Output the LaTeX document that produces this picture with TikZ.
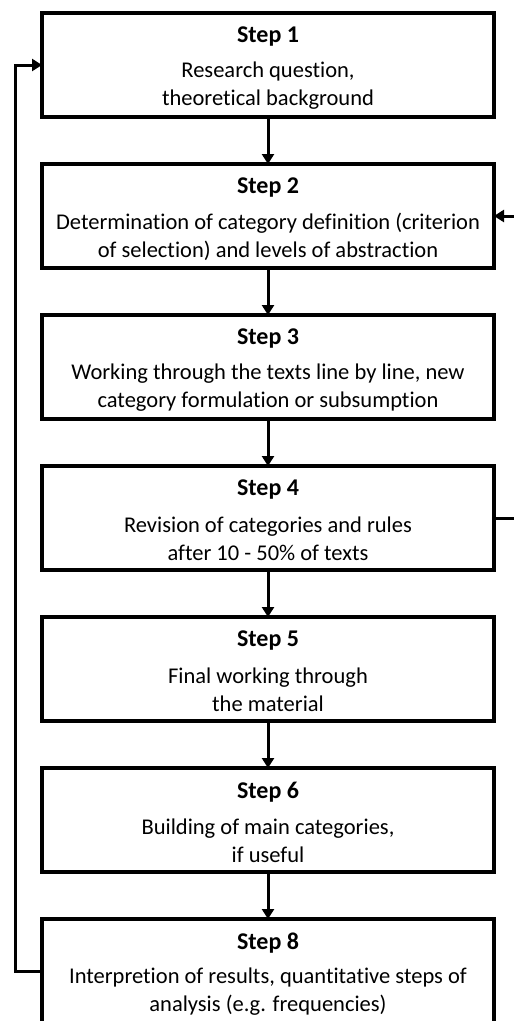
\documentclass[tikz,border=0pt]{standalone}
\usepackage{fontspec}
\setmainfont{Carlito}[Ligatures=NoCommon]
\usetikzlibrary{arrows.meta}
\begin{document}
\begin{tikzpicture}[x=1pt,y=-1pt,
  stepbox/.style={draw, line width=3.5pt, minimum width=452pt, minimum height=104pt,
    inner sep=0pt, outer sep=0pt, fill=white},
  steptitle/.style={font=\fontsize{24}{28}\selectfont\bfseries, inner sep=0pt},
  steptext/.style={font=\fontsize{22.5}{28}\selectfont, align=center, inner sep=0pt},
  flow/.style={line width=3pt, -{Triangle[width=12pt,length=10pt]}}]
\useasboundingbox (0,0) rectangle (514,1021);
\clip (0,0) rectangle (514,1021);
\fill[white] (0,0) rectangle (514,1021);

% step boxes
\node[stepbox] (s1) at (268,65)  {};
\node[stepbox] (s2) at (268,216) {};
\node[stepbox] (s3) at (268,367) {};
\node[stepbox] (s4) at (268,518) {};
\node[stepbox] (s5) at (268,669) {};
\node[stepbox] (s6) at (268,820) {};
\node[stepbox] (s8) at (268,971) {};

% titles and descriptions
\node[steptitle] (t1) at (268,37)  {Step 1};
\node[steptext]  (d1) at (268,86)  {Research question,\\theoretical background};
\node[steptitle] (t2) at (268,188) {Step 2};
\node[steptext]  (d2) at (268,237) {Determination of category definition (criterion\\of selection) and levels of abstraction};
\node[steptitle] (t3) at (268,339) {Step 3};
\node[steptext]  (d3) at (268,388) {Working through the texts line by line, new\\category formulation or subsumption};
\node[steptitle] (t4) at (268,490) {Step 4};
\node[steptext]  (d4) at (268,539) {Revision of categories and rules\\after 10 - 50\% of texts};
\node[steptitle] (t5) at (268,641) {Step 5};
\node[steptext]  (d5) at (268,690) {Final working through\\the material};
\node[steptitle] (t6) at (268,792) {Step 6};
\node[steptext]  (d6) at (268,841) {Building of main categories,\\if useful};
\node[steptitle] (t8) at (268,943) {Step 8};
\node[steptext]  (d8) at (268,992) {Interpretion of results, quantitative steps of\\analysis (e.g. frequencies)};

% main flow
\draw[flow] (s1.south) -- (s2.north);
\draw[flow] (s2.south) -- (s3.north);
\draw[flow] (s3.south) -- (s4.north);
\draw[flow] (s4.south) -- (s5.north);
\draw[flow] (s5.south) -- (s6.north);
\draw[flow] (s6.south) -- (s8.north);

% feedback loops
\coordinate (lb) at (15,971);
\coordinate (lt) at (15,65);
\draw[flow] (s8.west) -- (lb) -- (lt) -- (s1.west);
\coordinate (rb) at (535,518);
\coordinate (rt) at (535,216);
\draw[flow] (s4.east) -- (rb) -- (rt) -- (s2.east);
\end{tikzpicture}
\end{document}
